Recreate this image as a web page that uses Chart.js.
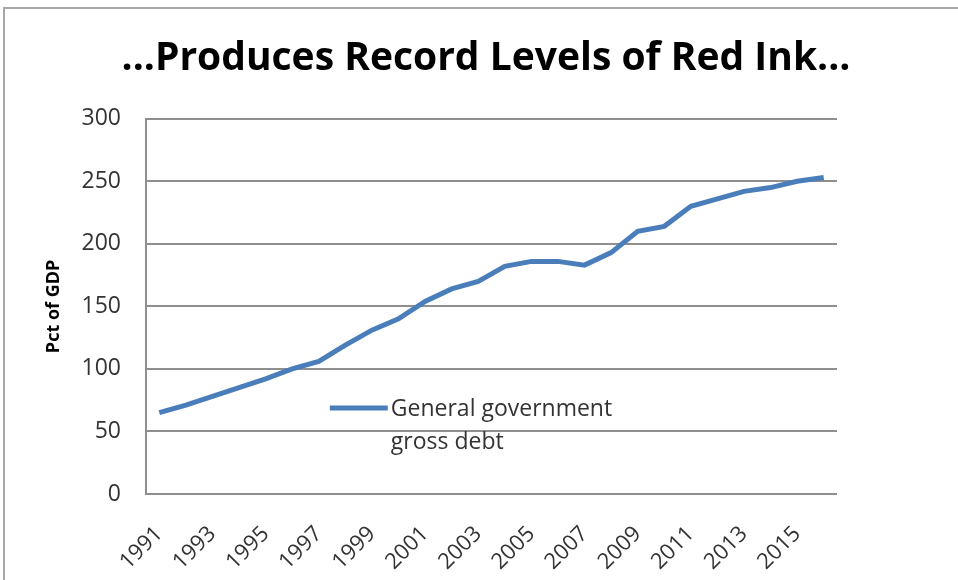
<!DOCTYPE html>
<html>
<head>
<meta charset="utf-8">
<script src="https://cdn.jsdelivr.net/npm/chart.js@4.4.1/dist/chart.umd.min.js"></script>
<style>
  html, body { margin: 0; padding: 0; background: #fff; }
  #wrap { position: relative; width: 958px; height: 580px; overflow: hidden; }
  #frame { position: absolute; left: 3px; top: 7px; width: 1000px; height: 620px;
           border-left: 2px solid #a8a8a8; border-top: 2px solid #a8a8a8; }
  canvas { position: absolute; left: 0; top: 0; }
</style>
</head>
<body>
<div id="wrap">
  <div id="frame"></div>
  <canvas id="chart" width="958" height="580"></canvas>
</div>
<script>
// general government gross debt, pct of GDP
var years = ['1991', '1992', '1993', '1994', '1995', '1996', '1997', '1998', '1999',
             '2000', '2001', '2002', '2003', '2004', '2005', '2006', '2007', '2008',
             '2009', '2010', '2011', '2012', '2013', '2014', '2015', '2016'];
var debt = [65, 71, 78, 85, 92, 100, 106, 119, 131, 140, 154, 164, 170,
            182, 186, 186, 183, 193, 210, 214, 230, 236, 242, 245, 250, 253];
var tickLabels = ['1991', '1993', '1995', '1997', '1999', '2001', '2003',
                  '2005', '2007', '2009', '2011', '2013', '2015'];
var seriesLabel = ['General government', 'gross debt'];

var gridColor = '#8f8f8f';
var lineColor = '#4a7ebb';

// Excel-style legend sitting inside the plot
var legendInside = {
    id: 'legendInside',
    afterDatasetsDraw: function (chart) {
        var a = chart.chartArea, ctx = chart.ctx;
        var ds = chart.data.datasets[0];
        var x = a.left + (a.right - a.left) * 0.266;
        var y = a.top + (a.bottom - a.top) * 0.771;
        ctx.save();
        ctx.strokeStyle = ds.borderColor;
        ctx.lineWidth = ds.borderWidth;
        ctx.beginPath();
        ctx.moveTo(x, y);
        ctx.lineTo(x + 58, y);
        ctx.stroke();
        ctx.fillStyle = '#333';
        ctx.font = '23px "Open Sans"';
        ctx.textBaseline = 'middle';
        seriesLabel.forEach(function (t, i) {
            ctx.fillText(t, x + 61, y + 1 + i * 33);
        });
        ctx.restore();
    }
};

var config = {
    type: 'line',
    data: {
        labels: years,
        datasets: [{
            label: seriesLabel.join(' '),
            data: debt,
            borderColor: lineColor,
            backgroundColor: lineColor,
            borderWidth: 5,
            pointRadius: 0,
            tension: 0,
            fill: false
        }]
    },
    options: {
        responsive: false,
        animation: false,
        layout: { padding: { left: 14, right: 0, top: 0, bottom: 0 } },
        plugins: {
            legend: { display: false },
            tooltip: { enabled: false },
            title: {
                display: true,
                text: '...Produces Record Levels of Red Ink...',
                color: '#000',
                font: { family: 'Open Sans', size: 39, weight: 'bold' },
                padding: { top: 35, bottom: 37 }
            }
        },
        scales: {
            x: {
                offset: true,
                grid: { display: false },
                border: { display: false },
                ticks: {
                    autoSkip: false,
                    maxRotation: 45,
                    minRotation: 45,
                    padding: 19,
                    color: '#333',
                    font: { family: 'Open Sans', size: 22 },
                    callback: function (v) {
                        var lab = this.getLabelForValue(v);
                        return tickLabels.indexOf(lab) >= 0 ? lab : '';
                    }
                },
                afterFit: function (s) { s.height = 86; }
            },
            y: {
                min: 0,
                max: 300,
                ticks: {
                    stepSize: 50,
                    padding: 25,
                    color: '#333',
                    font: { family: 'Open Sans', size: 23 }
                },
                grid: { color: gridColor, lineWidth: 2, drawTicks: false },
                border: { display: true, color: gridColor, width: 2 },
                title: {
                    display: true,
                    text: 'Pct of GDP',
                    color: '#000',
                    font: { family: 'Open Sans', size: 18, weight: 'bold' },
                    padding: { top: 29, bottom: 0 }
                },
                afterFit: function (s) { s.width = 132; }
            },
            // empty right margin so the title centres like the original
            yRight: {
                position: 'right',
                grid: { display: false },
                border: { display: false },
                ticks: { display: false },
                afterFit: function (s) { s.width = 121; }
            }
        }
    },
    plugins: [legendInside]
};

var ctx = document.getElementById('chart').getContext('2d');
var myChart = new Chart(ctx, config);
</script>
</body>
</html>
